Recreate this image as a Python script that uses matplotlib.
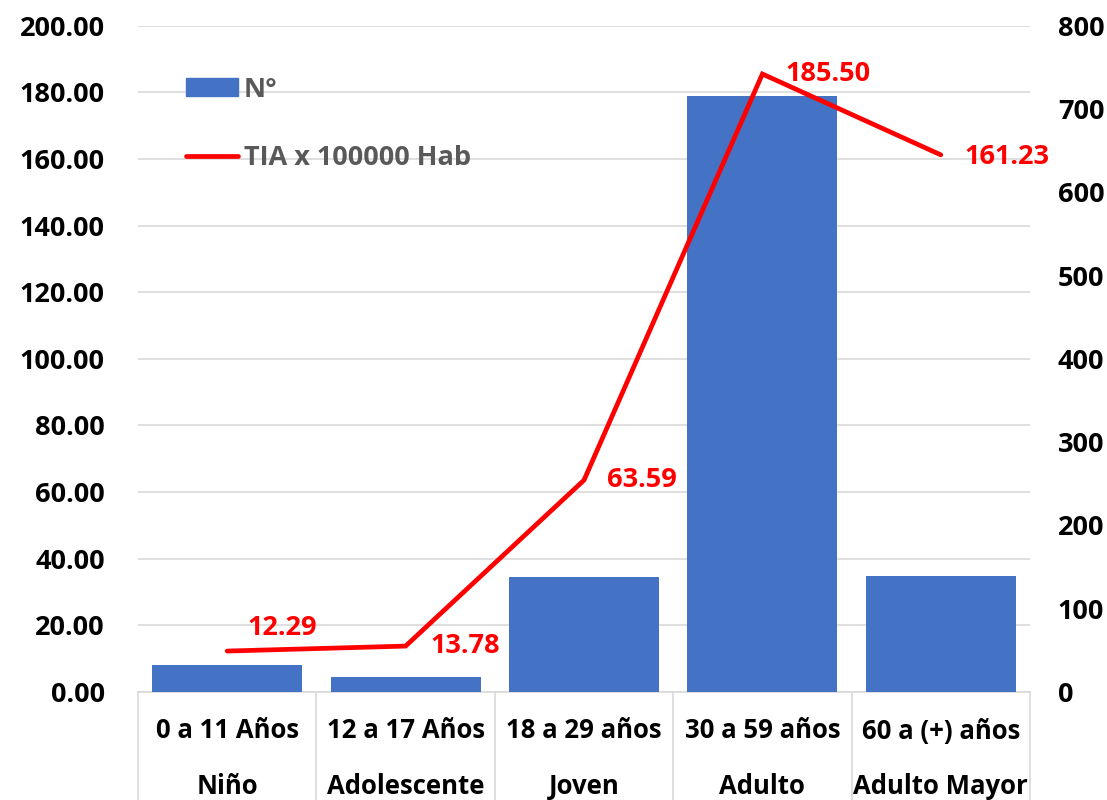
import numpy as np
import matplotlib.pyplot as plt
from matplotlib.patches import Patch
from matplotlib.lines import Line2D
import matplotlib.transforms as mtransforms

plt.rcParams['font.family'] = ['Open Sans', 'DejaVu Sans']
plt.rcParams['font.weight'] = 'bold'

rangos = ["0 a 11 Años", "12 a 17 Años", "18 a 29 años", "30 a 59 años", "60 a (+) años"]
etapas = ["Niño", "Adolescente", "Joven", "Adulto", "Adulto Mayor"]
casos = [32, 18, 138, 716, 139]
tia = [12.29, 13.78, 63.59, 185.50, 161.23]

azul = '#4472C4'
gris = '#D9D9D9'
tam = 19.5

fig = plt.figure(figsize=(11.07, 8), dpi=100)
ax = fig.add_axes([138/1107, 1-692/800, (1030-138)/1107, (692-25.7)/800])
x = np.arange(len(rangos))

# eje izquierdo: tasa (grilla)
ax.set_ylim(0, 200)
ax.set_yticks(np.arange(0, 201, 20))
ax.set_yticklabels(["%.2f" % v for v in np.arange(0, 201, 20)])
ax.set_xlim(-0.5, len(rangos) - 0.5)
ax.set_xticks([])
ax.grid(axis='y', color=gris, linewidth=1.2)
ax.set_axisbelow(True)
ax.tick_params(axis='y', length=0, pad=24, labelsize=tam)
for s in ['top', 'left', 'right']:
    ax.spines[s].set_visible(False)
ax.spines['bottom'].set_color(gris)
ax.spines['bottom'].set_linewidth(1.2)

# eje derecho: numero de casos
ax2 = ax.twinx()
ax2.bar(x, casos, width=0.84, color=azul, zorder=2)
ax2.set_ylim(0, 800)
ax2.set_yticks(np.arange(0, 801, 100))
ax2.tick_params(axis='y', length=0, pad=20, labelsize=tam)
for s in ax2.spines.values():
    s.set_visible(False)

# linea de la tasa encima de las barras
ax3 = ax.twinx()
ax3.set_ylim(0, 200)
ax3.plot(x, tia, color='red', linewidth=3.4, solid_capstyle='round', solid_joinstyle='miter')
ax3.axis('off')

desp = [(20, 23), (25, 0), (23, 0), (23, 0), (24, -2)]
for i in range(len(tia)):
    ax3.annotate("%.2f" % tia[i], (x[i], tia[i]), xytext=desp[i], textcoords='offset pixels',
                 ha='left', va='center', color='red', fontsize=tam, fontweight='bold')

# tabla de categorias bajo el eje
trans = mtransforms.blended_transform_factory(ax.transData, ax.transAxes)
for b in np.arange(-0.5, len(rangos), 1):
    ax.plot([b, b], [0, -0.2], color=gris, linewidth=1.2, transform=trans, clip_on=False)
y1 = -(731 - 692) / 666.3
y2 = -(786 - 692) / 666.3
for i in range(len(rangos)):
    ax.text(x[i], y1, rangos[i], transform=trans, ha='center', va='center', fontsize=18.5, fontweight='bold')
    ax.text(x[i], y2, etapas[i], transform=trans, ha='center', va='center', fontsize=18.5, fontweight='bold')

handles = [Patch(color=azul), Line2D([0], [0], color='red', linewidth=3.4, solid_capstyle='round')]
leg = ax3.legend(handles, ["N°", "TIA x 100000 Hab"], loc='upper left', bbox_to_anchor=(0.026, 0.96),
                 frameon=False, fontsize=tam, handlelength=1.95, handleheight=0.65, handletextpad=0.2,
                 labelspacing=1.57, labelcolor='#595959')

plt.savefig('out.png', dpi=100)
